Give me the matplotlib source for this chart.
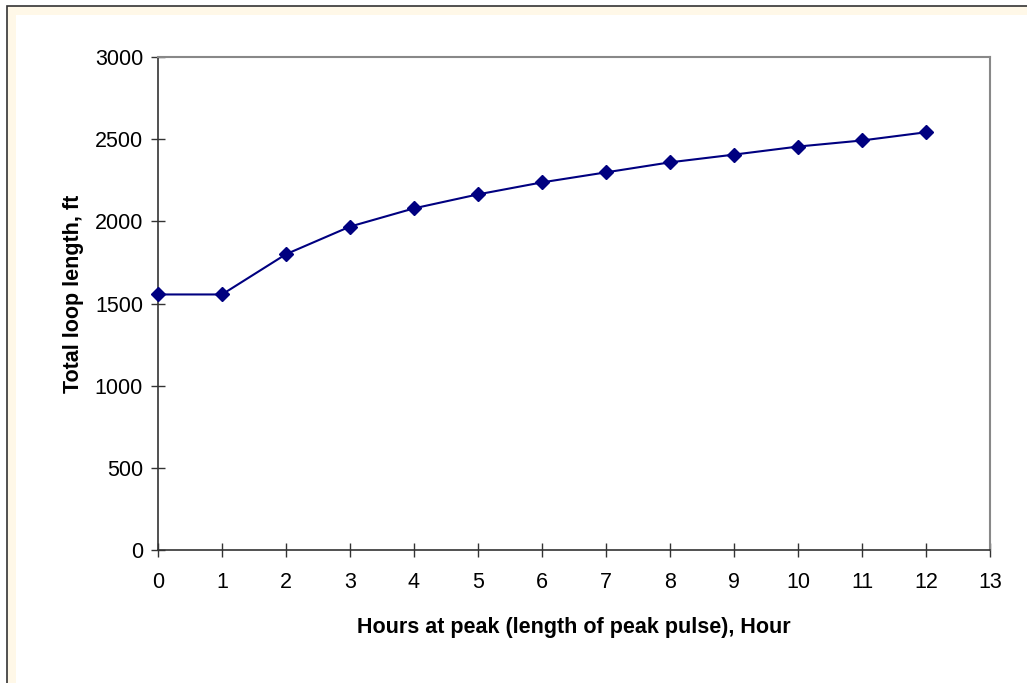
import matplotlib
matplotlib.use("Agg")
import matplotlib.pyplot as plt
from matplotlib.patches import Rectangle

hours = [0, 1, 2, 3, 4, 5, 6, 7, 8, 9, 10, 11, 12]
loop_length = [1555, 1555, 1800, 1968, 2079, 2164, 2237, 2298, 2359, 2406, 2455, 2492, 2542]
x_ticks = list(range(0, 14))
y_ticks = [0, 500, 1000, 1500, 2000, 2500, 3000]

plt.rcParams['font.family'] = ['Liberation Sans', 'DejaVu Sans']

W, H = 1027, 683
fig = plt.figure(figsize=(W / 100, H / 100), dpi=100)
fig.patch.set_facecolor('white')

# outer frame (cropped chart area look)
fig.patches.append(Rectangle((7 / W, -0.1), 1.2, 1.1 - 6 / H, transform=fig.transFigure,
                             facecolor='#FFF8E8', edgecolor='#333333', linewidth=1.2, zorder=0))
fig.patches.append(Rectangle((16 / W, -0.1), 1.2, 1.1 - 15 / H, transform=fig.transFigure,
                             facecolor='white', edgecolor='none', zorder=0.5))

ax = fig.add_axes([158 / W, 1 - 550 / H, (990 - 158) / W, (550 - 57) / H])
ax.set_zorder(2)
ax.set_facecolor('white')
ax.plot(hours, loop_length, color='#000080', linewidth=1.5, marker='D',
        markersize=7.5, markerfacecolor='#000080', markeredgecolor='#000080', clip_on=False, zorder=3)

ax.set_xlim(0, 13)
ax.set_ylim(0, 3000)
ax.set_xticks(x_ticks)
ax.set_yticks(y_ticks)
ax.tick_params(axis='both', direction='inout', length=9.5, width=1, color='#333333',
               labelsize=15.5, colors='black')
ax.tick_params(axis='x', pad=11)
ax.tick_params(axis='y', pad=6)
for s in ['left', 'bottom']:
    ax.spines[s].set_color('#333333')
    ax.spines[s].set_linewidth(1.2)
for s in ['top', 'right']:
    ax.spines[s].set_color('#888888')
    ax.spines[s].set_linewidth(1.5)

ax.set_xlabel('Hours at peak (length of peak pulse), Hour', fontsize=15.5, fontweight='bold')
ax.set_ylabel('Total loop length, ft', fontsize=15.5, fontweight='bold')
ax.xaxis.set_label_coords(0.5, -(617 - 550) / 493)
ax.yaxis.set_label_coords((84 - 158) / 832, (550 - 293.5) / 493)

fig.savefig('out.png', dpi=100, facecolor=fig.get_facecolor())
